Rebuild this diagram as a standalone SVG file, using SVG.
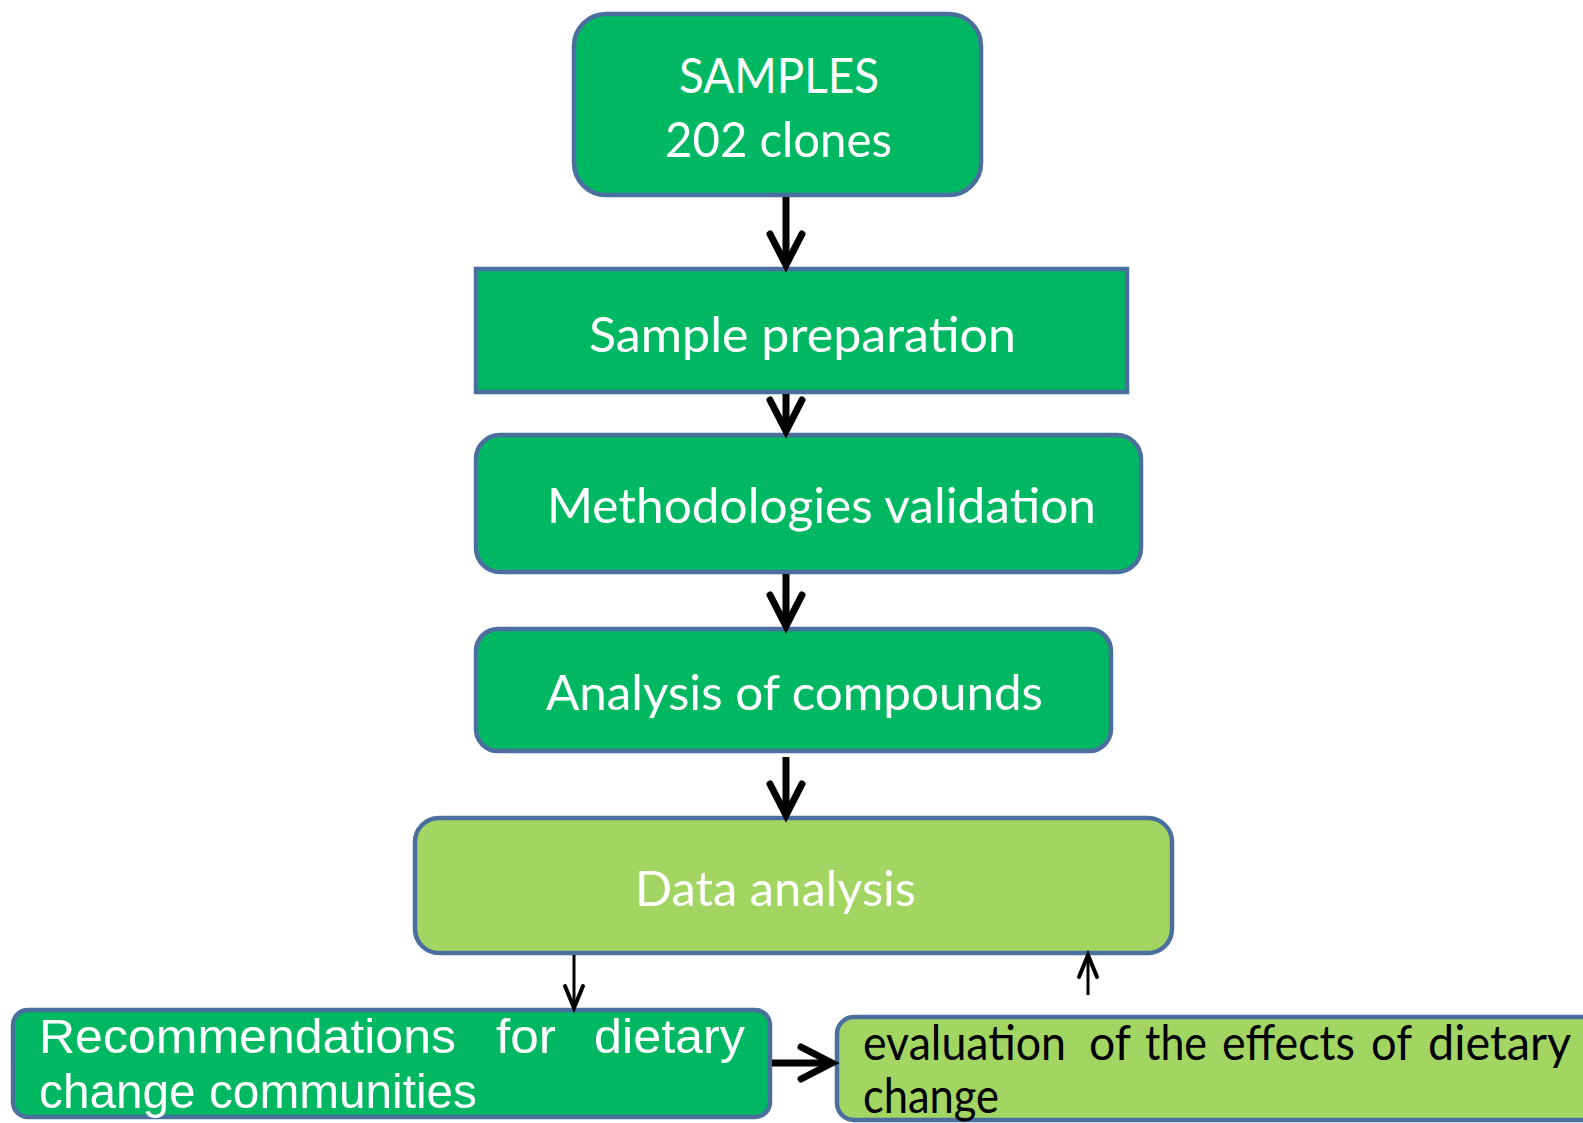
<svg xmlns="http://www.w3.org/2000/svg" width="1583" height="1123" viewBox="0 0 1583 1123">
<style>
.g{fill:#00B862;stroke:#4A6F9E;stroke-width:4.5}
.lg{fill:#A3D562;stroke:#4A6F9E;stroke-width:4.5}
.c{font-family:Lato,"Open Sans",sans-serif;font-size:49px;fill:#FFFFFF}
.cb{font-family:Lato,"Open Sans",sans-serif;font-size:48px;fill:#000000}
.a{font-family:"Liberation Sans",Arial,sans-serif;font-size:49px;fill:#FFFFFF}
.thick{stroke:#000;stroke-width:7;fill:none}
.thin{stroke:#000;stroke-width:3;fill:none}
</style>
<defs>
<marker id="hk" markerUnits="userSpaceOnUse" orient="auto" refX="0" refY="0" markerWidth="60" markerHeight="60" viewBox="-40 -30 50 60" overflow="visible">
<path d="M-31,-16 L0,0 L-31,16" fill="none" stroke="#000" stroke-width="7" stroke-linecap="round" stroke-linejoin="miter"/>
</marker>
<marker id="hn" markerUnits="userSpaceOnUse" orient="auto" refX="0" refY="0" markerWidth="40" markerHeight="40" viewBox="-30 -20 40 40" overflow="visible">
<path d="M-22,-9 L0,0 L-22,9" fill="none" stroke="#000" stroke-width="4" stroke-linecap="round" stroke-linejoin="miter"/>
</marker>
</defs>
<rect width="1583" height="1123" fill="#FFFFFF"/>

<g id="samples">
<rect class="g" x="574" y="14" width="407" height="181" rx="32"/>
<text class="c" x="679" y="93" textLength="200" lengthAdjust="spacingAndGlyphs">SAMPLES</text>
<text class="c" x="665" y="157" textLength="227" lengthAdjust="spacingAndGlyphs">202 clones</text>
</g>

<g id="sample-preparation">
<rect class="g" x="476" y="269" width="651" height="123"/>
<text class="c" x="589" y="352" textLength="427" lengthAdjust="spacingAndGlyphs">Sample preparation</text>
</g>

<g id="methodologies-validation">
<rect class="g" x="476" y="435" width="665" height="137" rx="24"/>
<text class="c" x="547" y="523" textLength="549" lengthAdjust="spacingAndGlyphs">Methodologies validation</text>
</g>

<g id="analysis-of-compounds">
<rect class="g" x="476" y="629" width="635" height="122" rx="22"/>
<text class="c" x="546" y="710" textLength="497" lengthAdjust="spacingAndGlyphs">Analysis of compounds</text>
</g>

<g id="data-analysis">
<rect class="lg" x="415" y="818" width="757" height="135" rx="24"/>
<text class="c" x="635" y="906" textLength="281" lengthAdjust="spacingAndGlyphs">Data analysis</text>
</g>

<g id="recommendations">
<rect class="g" x="13" y="1010" width="757" height="107" rx="15"/>
<text class="a" x="39" y="1053" textLength="417" lengthAdjust="spacingAndGlyphs">Recommendations</text>
<text class="a" x="496" y="1053" textLength="60" lengthAdjust="spacingAndGlyphs">for</text>
<text class="a" x="594" y="1053" textLength="151" lengthAdjust="spacingAndGlyphs">dietary</text>
<text class="a" x="39" y="1108" textLength="438" lengthAdjust="spacingAndGlyphs">change communities</text>
</g>

<g id="evaluation">
<rect class="lg" x="837" y="1017" width="800" height="103" rx="17"/>
<text class="cb" x="863" y="1060" textLength="203" lengthAdjust="spacingAndGlyphs">evaluation</text>
<text class="cb" x="1089" y="1060" textLength="42" lengthAdjust="spacingAndGlyphs">of</text>
<text class="cb" x="1145" y="1060" textLength="62" lengthAdjust="spacingAndGlyphs">the</text>
<text class="cb" x="1222" y="1060" textLength="133" lengthAdjust="spacingAndGlyphs">effects</text>
<text class="cb" x="1371" y="1060" textLength="41" lengthAdjust="spacingAndGlyphs">of</text>
<text class="cb" x="1428" y="1060" textLength="143" lengthAdjust="spacingAndGlyphs">dietary</text>
<text class="cb" x="863" y="1113" textLength="136" lengthAdjust="spacingAndGlyphs">change</text>
</g>

<g id="connectors">
<line class="thick" x1="786" y1="197" x2="786" y2="265" marker-end="url(#hk)"/>
<line class="thick" x1="786" y1="394" x2="786" y2="431" marker-end="url(#hk)"/>
<line class="thick" x1="786" y1="574" x2="786" y2="626" marker-end="url(#hk)"/>
<line class="thick" x1="786" y1="757" x2="786" y2="815" marker-end="url(#hk)"/>
<line class="thin" x1="574" y1="955" x2="574" y2="1008" marker-end="url(#hn)"/>
<line class="thin" x1="1088" y1="995" x2="1088" y2="955" marker-end="url(#hn)"/>
<line class="thick" x1="772" y1="1063" x2="832" y2="1063" marker-end="url(#hk)"/>
</g>
</svg>
